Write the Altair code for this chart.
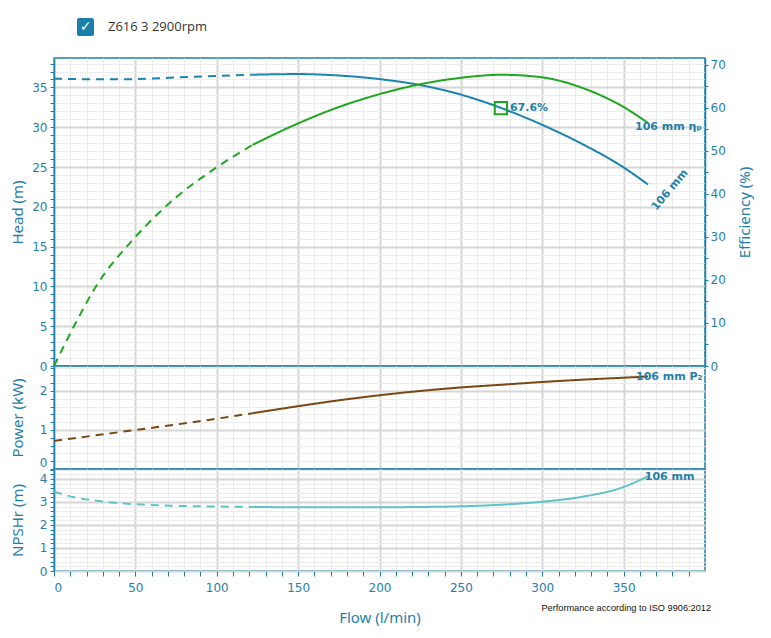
import altair as alt
import pandas as pd

# ---------------- data ----------------
FLOW = [0, 12.5, 25, 50, 75, 100, 122, 150, 175, 200, 225, 250, 275, 300, 325, 350, 365]
HEAD = [36.1, 36.05, 36.02, 36.05, 36.25, 36.45, 36.6, 36.68, 36.5, 36.05, 35.3, 34.1, 32.4, 30.3, 27.85, 24.95, 22.8]
EFF = [0, 9.4, 18.0, 30.0, 39.2, 46.2, 51.4, 56.4, 60.2, 63.2, 65.5, 67.0, 67.7, 67.1, 64.6, 60.2, 56.5]
POWER = [0.72, 0.79, 0.86, 1.00, 1.14, 1.29, 1.43, 1.61, 1.76, 1.89, 2.00, 2.09, 2.16, 2.23, 2.29, 2.34, 2.37]
NPSH = [3.45, 3.20, 3.06, 2.90, 2.83, 2.80, 2.78, 2.77, 2.77, 2.77, 2.78, 2.81, 2.88, 3.01, 3.23, 3.65, 4.12]
DASH_END = 122

BEP_FLOW = [274.6]
BEP_HEAD = [32.4]
BEP_TEXT = ["67.6%"]

LEGEND_LABEL = "Z616 3 2900rpm"
ISO_NOTE = "Performance according to ISO 9906:2012"

X_TICKS = list(range(0, 400, 10))
HEAD_TICKS = list(range(0, 39))
EFF_TICKS = list(range(0, 71, 5))
POWER_TICKS = [round(i * 0.2, 1) for i in range(14)]
NPSH_TICKS = [round(i * 0.2, 1) for i in range(23)]

X_DOMAIN = [0, 400]
HEAD_DOMAIN = [0, 38.7]
EFF_DOMAIN = [0, 71.6]
POWER_DOMAIN = [0, 2.64]
NPSH_DOMAIN = [0, 4.43]

# ---------------- styling ----------------
TEAL = "#1f80a8"
HEAD_C = "#1b84ae"
EFF_C = "#1fa81f"
POWER_C = "#7a4712"
NPSH_C = "#5cc3c6"
MAJOR_GRID = "#d6d6d6"
MINOR_GRID = "#ececec"
W = 651
H_TOP, H_MID, H_BOT = 308, 103, 102


def seg_df(vals):
    rows = []
    for f, v in zip(FLOW, vals):
        if f <= DASH_END:
            rows.append({"flow": f, "val": v, "seg": "dash"})
        if f >= DASH_END:
            rows.append({"flow": f, "val": v, "seg": "solid"})
    return pd.DataFrame(rows)


def grid_cond(test, major, minor):
    return {"condition": {"test": test, "value": major}, "value": minor}


def x_axis(show):
    kw = dict(values=X_TICKS, grid=True,
              gridColor=grid_cond("datum.value % 50 === 0", MAJOR_GRID, MINOR_GRID),
              gridWidth=grid_cond("datum.value % 50 === 0", 2, 1),
              domain=False)
    if show:
        kw.update(labels=True, ticks=True, tickSize=5, labelPadding=6,
                  labelExpr="datum.value % 50 === 0 ? datum.label : ''",
                  title="Flow (l/min)", titlePadding=17)
    else:
        kw.update(labels=False, ticks=False, title=None)
    return alt.Axis(**kw)


def y_left_axis(values, title, test, fmt, flush=False):
    return alt.Axis(values=values, grid=True, orient="left",
                    gridColor=grid_cond(test, MAJOR_GRID, MINOR_GRID),
                    gridWidth=grid_cond(test, 2, 1),
                    labelExpr=f"({test}) ? datum.label : ''", format=fmt,
                    labelFlush=flush,
                    tickSize=4, labelPadding=3, title=title,
                    titleX=-36.5, titleBaseline="middle", domain=True)


def X(axis):
    return alt.X("flow:Q", scale=alt.Scale(domain=X_DOMAIN, nice=False, zero=False), axis=axis)


def Y(scale, axis):
    return alt.Y("val:Q", scale=scale, axis=axis)


dash_scale = alt.Scale(domain=["dash", "solid"], range=[[8, 6], [1, 0]])
label_style = dict(font="DejaVu Sans", fontSize=11, fontWeight="bold", color=TEAL)

XA_HIDDEN = x_axis(False)
XA_SHOWN = x_axis(True)

# ---------------- top panel: head + efficiency ----------------
head_scale = alt.Scale(domain=HEAD_DOMAIN, nice=False, zero=False)
eff_scale = alt.Scale(domain=EFF_DOMAIN, nice=False, zero=False)
HEAD_AXIS = y_left_axis(HEAD_TICKS, "Head (m)", "datum.value % 5 === 0", "d")
EFF_AXIS = alt.Axis(orient="right", values=EFF_TICKS, grid=False, tickSize=3, labelPadding=2,
                    labelExpr="datum.value % 10 === 0 ? datum.label : ''",
                    title="Efficiency (%)", titleAngle=270, titleX=39, titleBaseline="middle")

head_line = alt.Chart(seg_df(HEAD)).mark_line(strokeWidth=2, color=HEAD_C, interpolate="monotone").encode(
    x=X(XA_HIDDEN), y=Y(head_scale, HEAD_AXIS),
    strokeDash=alt.StrokeDash("seg:N", scale=dash_scale, legend=None),
)

bep_df = pd.DataFrame({"flow": BEP_FLOW, "val": BEP_HEAD, "txt": BEP_TEXT})
bep_mark = alt.Chart(bep_df).mark_point(shape="square", filled=False, size=150, strokeWidth=2,
                                        color=EFF_C, opacity=1).encode(
    x=X(XA_HIDDEN), y=Y(head_scale, HEAD_AXIS))
bep_text = alt.Chart(bep_df).mark_text(align="left", baseline="middle", dx=9, **label_style).encode(
    x=X(XA_HIDDEN), y=Y(head_scale, HEAD_AXIS), text="txt:N")

head_lab_df = pd.DataFrame({"flow": [378.5], "val": [22.1], "txt": ["106 mm"]})
head_lab = alt.Chart(head_lab_df).mark_text(align="center", baseline="middle", angle=310, **label_style).encode(
    x=X(XA_HIDDEN), y=Y(head_scale, HEAD_AXIS), text="txt:N")

legend_df = pd.DataFrame({"txt": [LEGEND_LABEL]})
legend_box = alt.Chart(legend_df).mark_rect(color="#1a7faa", cornerRadius=2).encode(
    x=alt.value(23), x2=alt.value(40), y=alt.value(-40), y2=alt.value(-22))
legend_check = alt.Chart(legend_df).mark_text(text="✓", color="white", fontSize=14, fontWeight="bold",
                                              font="DejaVu Sans", align="center", baseline="middle").encode(
    x=alt.value(31.5), y=alt.value(-31))
legend_text = alt.Chart(legend_df).mark_text(color="#333333", fontSize=13, font="Open Sans",
                                             align="left", baseline="middle").encode(
    x=alt.value(54), y=alt.value(-31), text="txt:N")

head_group = alt.layer(head_line, bep_mark, bep_text, head_lab, legend_box, legend_check, legend_text)

eff_line = alt.Chart(seg_df(EFF)).mark_line(strokeWidth=2, color=EFF_C, interpolate="monotone").encode(
    x=X(XA_HIDDEN), y=Y(eff_scale, EFF_AXIS),
    strokeDash=alt.StrokeDash("seg:N", scale=dash_scale, legend=None),
)
eff_lab_df = pd.DataFrame({"flow": [357], "val": [55.5], "txt": ["106 mm  ηₚ"]})
eff_lab = alt.Chart(eff_lab_df).mark_text(align="left", baseline="middle", **label_style).encode(
    x=X(XA_HIDDEN), y=Y(eff_scale, EFF_AXIS), text="txt:N")
eff_group = alt.layer(eff_line, eff_lab)

top = alt.layer(head_group, eff_group).resolve_scale(y="independent").properties(width=W, height=H_TOP)

# ---------------- middle panel: power ----------------
p_scale = alt.Scale(domain=POWER_DOMAIN, nice=False, zero=False)
unit_test = "abs(datum.value - round(datum.value)) < 0.001"
POWER_AXIS = y_left_axis(POWER_TICKS, "Power (kW)", unit_test, ".0f", flush=True)
power_line = alt.Chart(seg_df(POWER)).mark_line(strokeWidth=2, color=POWER_C, interpolate="monotone").encode(
    x=X(XA_HIDDEN), y=Y(p_scale, POWER_AXIS),
    strokeDash=alt.StrokeDash("seg:N", scale=dash_scale, legend=None),
)
p_lab_df = pd.DataFrame({"flow": [357.6], "val": [2.36], "txt": ["106 mm  P₂"]})
p_lab = alt.Chart(p_lab_df).mark_text(align="left", baseline="middle", **label_style).encode(
    x=X(XA_HIDDEN), y=Y(p_scale, POWER_AXIS), text="txt:N")
mid = alt.layer(power_line, p_lab).properties(width=W, height=H_MID)

# ---------------- bottom panel: NPSHr ----------------
n_scale = alt.Scale(domain=NPSH_DOMAIN, nice=False, zero=False)
NPSH_AXIS = y_left_axis(NPSH_TICKS, "NPSHr (m)", unit_test, ".0f")
npsh_line = alt.Chart(seg_df(NPSH)).mark_line(strokeWidth=2, color=NPSH_C, interpolate="monotone").encode(
    x=X(XA_SHOWN), y=Y(n_scale, NPSH_AXIS),
    strokeDash=alt.StrokeDash("seg:N", scale=dash_scale, legend=None),
)
n_lab_df = pd.DataFrame({"flow": [363], "val": [4.09], "txt": ["106 mm"]})
n_lab = alt.Chart(n_lab_df).mark_text(align="left", baseline="middle", **label_style).encode(
    x=X(XA_SHOWN), y=Y(n_scale, NPSH_AXIS), text="txt:N")
iso_df = pd.DataFrame({"txt": [ISO_NOTE]})
iso = alt.Chart(iso_df).mark_text(align="right", baseline="middle", font="Liberation Sans", fontSize=9.2,
                                  color="#111111").encode(
    x=alt.value(657), y=alt.value(H_BOT + 37), text="txt:N")
bot = alt.layer(npsh_line, n_lab, iso).properties(width=W, height=H_BOT)

chart = alt.vconcat(top, mid, bot, spacing=0, bounds="flush").properties(
    padding={"left": 1, "top": 9, "right": 5, "bottom": 5}
).configure_view(
    stroke=TEAL, strokeWidth=1.5
).configure_axis(
    labelColor=TEAL, titleColor=TEAL, domainColor=TEAL, tickColor=TEAL,
    labelFont="DejaVu Sans", labelFontSize=12, titleFont="Noto Sans", titleFontSize=15,
    titleFontWeight="normal", domainWidth=1.5,
)

chart.save("out.html", embed_options={"renderer": "svg", "actions": False})
